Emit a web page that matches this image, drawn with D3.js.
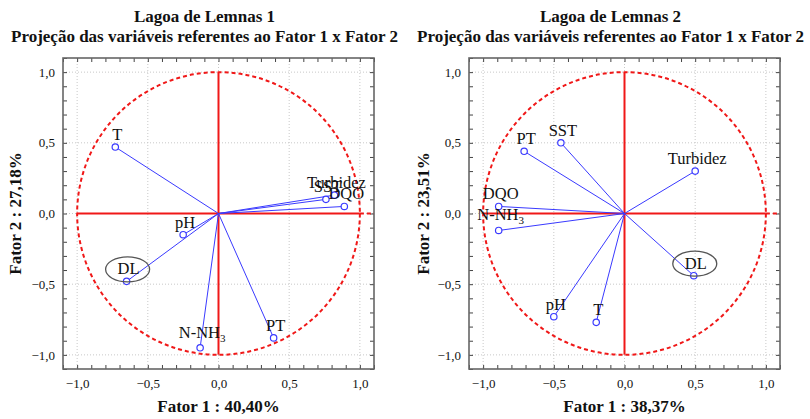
<!DOCTYPE html>
<html>
<head>
<meta charset="utf-8">
<script src="https://cdn.jsdelivr.net/npm/d3@7"></script>
<style>
body { margin: 0; background: #fff; }
text { font-family: "Liberation Serif", "Times New Roman", serif; fill: #111; }
</style>
</head>
<body>
<svg id="chart" width="810" height="419"></svg>
<script>
// Lagoa de Lemnas 1
var vars1 = ["T", "pH", "DL", "N-NH3", "PT", "Turbidez", "SST", "DQO"];
var fator1_1 = [-0.73, -0.25, -0.65, -0.13, 0.39, 0.82, 0.76, 0.89];
var fator2_1 = [0.47, -0.15, -0.48, -0.95, -0.88, 0.13, 0.10, 0.05];

// Lagoa de Lemnas 2
var vars2 = ["SST", "PT", "Turbidez", "DQO", "N-NH3", "DL", "pH", "T"];
var fator1_2 = [-0.45, -0.71, 0.50, -0.89, -0.89, 0.49, -0.50, -0.20];
var fator2_2 = [0.50, 0.44, 0.30, 0.05, -0.12, -0.44, -0.73, -0.77];

var majorTicks = [-1.0, -0.5, 0.0, 0.5, 1.0];
var minorTicks = d3.range(-11, 12).map(function(i) { return i / 10; });

var panels = [
	{
		title: "Lagoa de Lemnas 1",
		subtitle: "Projeção das variáveis referentes ao Fator 1 x Fator 2",
		xTitle: "Fator 1 : 40,40%",
		yTitle: "Fator 2 : 27,18%",
		names: vars1, xs: fator1_1, ys: fator2_1,
		highlight: "DL",
		left: 63, yTitleX: 15
	},
	{
		title: "Lagoa de Lemnas 2",
		subtitle: "Projeção das variáveis referentes ao Fator 1 x Fator 2",
		xTitle: "Fator 1 : 38,37%",
		yTitle: "Fator 2 : 23,51%",
		names: vars2, xs: fator1_2, ys: fator2_2,
		highlight: "DL",
		left: 469, yTitleX: 423
	}
];

var plotTop = 58;
var size = 311;
var red = "#f01818";
var blue = "#3a3aff";
var fmt = function(d) { return d3.format(".1f")(d).replace(".", ","); };

var svg = d3.select("#chart");

panels.forEach(drawPanel);

function drawPanel(p) {
	var x = d3.scaleLinear().domain([-1.1, 1.1]).range([0, size]);
	var y = d3.scaleLinear().domain([-1.1, 1.1]).range([size, 0]);
	var cx = p.left + size / 2 - 14;

	// titles
	svg.append("text")
		.attr("x", cx).attr("y", 22)
		.attr("text-anchor", "middle")
		.style("font-weight", "bold").style("font-size", "17px")
		.text(p.title);
	svg.append("text")
		.attr("x", cx).attr("y", 42)
		.attr("text-anchor", "middle")
		.style("font-weight", "bold").style("font-size", "17px")
		.text(p.subtitle);

	var g = svg.append("g")
		.attr("transform", "translate(" + p.left + "," + plotTop + ")");

	// grid
	g.append("g").selectAll("line.gx")
		.data(majorTicks)
		.enter().append("line")
			.attr("x1", function(d) { return x(d); })
			.attr("x2", function(d) { return x(d); })
			.attr("y1", 0).attr("y2", size)
			.attr("stroke", "#c8c8c8").attr("stroke-dasharray", "1,2");
	g.append("g").selectAll("line.gy")
		.data(majorTicks)
		.enter().append("line")
			.attr("y1", function(d) { return y(d); })
			.attr("y2", function(d) { return y(d); })
			.attr("x1", 0).attr("x2", size)
			.attr("stroke", "#c8c8c8").attr("stroke-dasharray", "1,2");

	// minor ticks on all four sides
	var sides = [
		[d3.axisBottom(x), "translate(0," + size + ")"],
		[d3.axisTop(x), "translate(0,0)"],
		[d3.axisLeft(y), "translate(0,0)"],
		[d3.axisRight(y), "translate(" + size + ",0)"]
	];
	sides.forEach(function(s) {
		var a = g.append("g")
			.attr("transform", s[1])
			.call(s[0].tickValues(minorTicks).tickSize(-4).tickFormat(""));
		a.select(".domain").remove();
		a.selectAll("line").attr("stroke", "#444");
	});

	// tick labels
	var xa = g.append("g")
		.attr("transform", "translate(0," + size + ")")
		.call(d3.axisBottom(x).tickValues(majorTicks).tickSize(0).tickPadding(10).tickFormat(fmt));
	var ya = g.append("g")
		.call(d3.axisLeft(y).tickValues(majorTicks).tickSize(0).tickPadding(8).tickFormat(fmt));
	[xa, ya].forEach(function(a) {
		a.select(".domain").remove();
		a.selectAll("text")
			.style("font-family", "'Liberation Serif', serif")
			.style("font-size", "13px")
			.attr("fill", "#222");
	});

	// frame
	g.append("rect")
		.attr("width", size).attr("height", size)
		.attr("fill", "none").attr("stroke", "#666").attr("stroke-width", 1.6);

	// unit circle
	g.append("ellipse")
		.attr("cx", x(0)).attr("cy", y(0))
		.attr("rx", x(1) - x(0)).attr("ry", y(0) - y(1))
		.attr("fill", "none").attr("stroke", red)
		.attr("stroke-width", 2).attr("stroke-dasharray", "4,3");

	// red axes
	g.append("line")
		.attr("x1", x(0)).attr("x2", x(0))
		.attr("y1", y(1)).attr("y2", y(-1))
		.attr("stroke", red).attr("stroke-width", 2);
	g.append("line")
		.attr("x1", x(-1)).attr("x2", x(1))
		.attr("y1", y(0)).attr("y2", y(0))
		.attr("stroke", red).attr("stroke-width", 2);
	g.append("line")
		.attr("x1", x(1)).attr("x2", x(1.1))
		.attr("y1", y(0)).attr("y2", y(0))
		.attr("stroke", red).attr("stroke-width", 2).attr("stroke-dasharray", "4,3");

	var pts = p.names.map(function(n, i) { return { name: n, f1: p.xs[i], f2: p.ys[i] }; });

	// vectors
	g.append("g").selectAll("line")
		.data(pts)
		.enter().append("line")
			.attr("x1", x(0)).attr("y1", y(0))
			.attr("x2", function(d) { return x(d.f1); })
			.attr("y2", function(d) { return y(d.f2); })
			.attr("stroke", blue).attr("stroke-width", 1);

	g.append("g").selectAll("circle")
		.data(pts)
		.enter().append("circle")
			.attr("cx", function(d) { return x(d.f1); })
			.attr("cy", function(d) { return y(d.f2); })
			.attr("r", 3.2)
			.attr("fill", "#fff").attr("stroke", blue).attr("stroke-width", 1.2);

	// highlight ellipse
	pts.filter(function(d) { return d.name == p.highlight; }).forEach(function(d) {
		g.append("ellipse")
			.attr("cx", x(d.f1) + 1).attr("cy", y(d.f2) - 12)
			.attr("rx", 22).attr("ry", 12.5)
			.attr("fill", "none").attr("stroke", "#555").attr("stroke-width", 1.3);
	});

	// labels
	g.append("g").selectAll("text")
		.data(pts)
		.enter().append("text")
			.attr("x", function(d) { return x(d.f1) + 2; })
			.attr("y", function(d) { return y(d.f2) - (/\d$/.test(d.name) ? 10 : 7); })
			.attr("text-anchor", "middle")
			.style("font-size", "16.5px")
			.each(function(d) {
				var m = d.name.match(/^(.*\D)(\d)$/);
				var t = d3.select(this);
				if (m) {
					t.append("tspan").text(m[1]);
					t.append("tspan").attr("dy", 4).style("font-size", "11px").text(m[2]);
				} else {
					t.text(d.name);
				}
			});

	// axis titles
	svg.append("text")
		.attr("x", p.left + x(0)).attr("y", 412)
		.attr("text-anchor", "middle")
		.style("font-weight", "bold").style("font-size", "17px")
		.text(p.xTitle);
	svg.append("text")
		.attr("transform", "translate(" + p.yTitleX + "," + (plotTop + size / 2) + ") rotate(-90)")
		.attr("text-anchor", "middle")
		.attr("dy", "0.35em")
		.style("font-weight", "bold").style("font-size", "17px")
		.text(p.yTitle);
}
</script>
</body>
</html>
